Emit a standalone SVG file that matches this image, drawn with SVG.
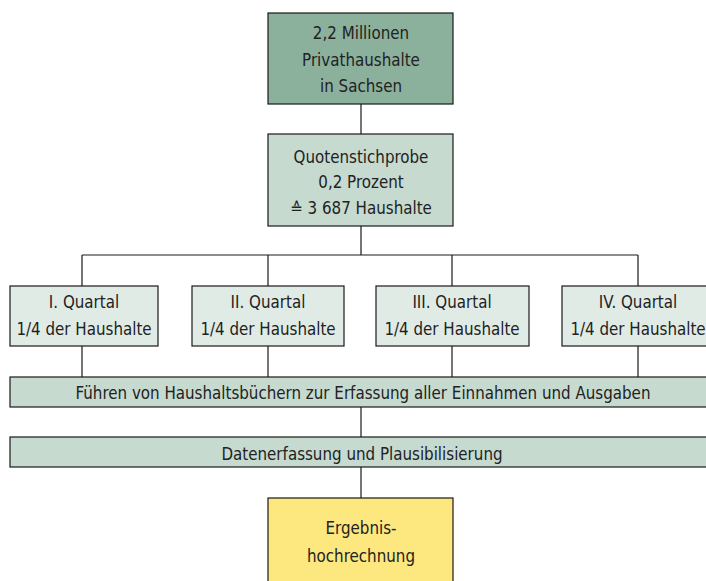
<svg xmlns="http://www.w3.org/2000/svg" width="706" height="581" viewBox="0 0 706 581">
<style>
.b{stroke:#1a1a1a;stroke-width:1.2}
.c{stroke:#1a1a1a;stroke-width:1.2;fill:none}
text{font-family:"DejaVu Sans Condensed","DejaVu Sans",sans-serif;font-size:16.8px;fill:#222;text-anchor:middle}
</style>
<rect width="706" height="581" fill="#fff"/>
<g id="connectors">
<path class="c" d="M361 104V134M361 226V255M82 255H638M82 255V286M268 255V286M452 255V286M638 255V286M82 346V377M268 346V377M452 346V377M638 346V377M361 407V437M361 467V498"/>
</g>
<g id="n1"><rect class="b" x="268" y="13" width="185" height="91" fill="#8bb09c"/>
<text x="361" y="39">2,2 Millionen</text><text x="361" y="66">Privathaushalte</text><text x="361" y="92">in Sachsen</text></g>
<g id="n2"><rect class="b" x="268" y="134" width="185" height="92" fill="#c6dad0"/>
<text x="361" y="163">Quotenstichprobe</text><text x="361" y="188">0,2 Prozent</text><text x="361" y="214">≙ 3 687 Haushalte</text></g>
<g id="q1"><rect class="b" x="10" y="286" width="148" height="60" fill="#e1ebe6"/>
<text x="84" y="308">I. Quartal</text><text x="84" y="335">1/4 der Haushalte</text></g>
<g id="q2"><rect class="b" x="192" y="286" width="152" height="60" fill="#e1ebe6"/>
<text x="268" y="308">II. Quartal</text><text x="268" y="335">1/4 der Haushalte</text></g>
<g id="q3"><rect class="b" x="376" y="286" width="153" height="60" fill="#e1ebe6"/>
<text x="452" y="308">III. Quartal</text><text x="452" y="335">1/4 der Haushalte</text></g>
<g id="q4"><rect class="b" x="562" y="286" width="152" height="60" fill="#e1ebe6"/>
<text x="638" y="308">IV. Quartal</text><text x="638" y="335">1/4 der Haushalte</text></g>
<g id="bar1"><rect class="b" x="10" y="377" width="706" height="30" fill="#c6dad0"/>
<text x="363" y="399">Führen von Haushaltsbüchern zur Erfassung aller Einnahmen und Ausgaben</text></g>
<g id="bar2"><rect class="b" x="10" y="437" width="706" height="30" fill="#c6dad0"/>
<text x="362" y="460">Datenerfassung und Plausibilisierung</text></g>
<g id="n3"><rect class="b" x="268" y="498" width="185" height="90" fill="#fde77f"/>
<text x="361" y="534">Ergebnis-</text><text x="361" y="562">hochrechnung</text></g>
</svg>
